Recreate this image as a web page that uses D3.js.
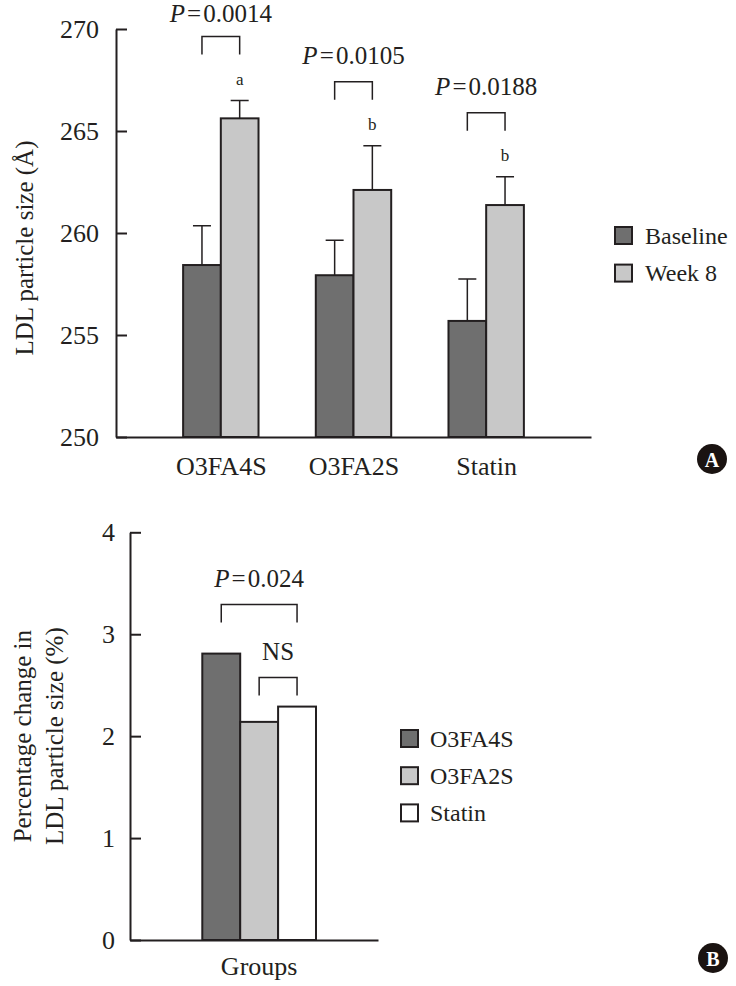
<!DOCTYPE html>
<html>
<head>
<meta charset="utf-8">
<script src="https://cdn.jsdelivr.net/npm/d3@7"></script>
<style>
  html, body { margin: 0; padding: 0; background: #fff; }
  svg { display: block; }
  text { font-family: "Liberation Serif", "Times New Roman", Times, serif; fill: #231f20; }
</style>
</head>
<body>
<svg id="chart" width="736" height="986"></svg>
<script>
// ---------- Data ----------
const categories = ["O3FA4S", "O3FA2S", "Statin"];
const seriesA = ["Baseline", "Week 8"];
const baselineValues = [258.43, 257.93, 255.69];
const baselineErrors = [1.93, 1.71, 2.06];
const week8Values = [265.62, 262.11, 261.37];
const week8Errors = [0.87, 2.17, 1.39];
const pValuesA = ["0.0014", "0.0105", "0.0188"];
const sigLetters = ["a", "b", "b"];
const ticksA = [250, 255, 260, 265, 270];

const seriesB = ["O3FA4S", "O3FA2S", "Statin"];
const pctChange = [2.81, 2.14, 2.29];
const ticksB = [0, 1, 2, 3, 4];
const pValueB = "0.024";
const nsLabel = "NS";
const groupLabelB = "Groups";

// ---------- Styles ----------
const INK = "#231f20";
const SERIF = "'Liberation Serif', 'Times New Roman', Times, serif";
const colorsA = ["#6f6f6f", "#c8c8c8"];
const colorsB = ["#6f6f6f", "#c8c8c8", "#ffffff"];
const THIN = "\u200A";

const svg = d3.select("#chart");

// ================= Panel A =================
const gA = svg.append("g");
const yA = d3.scaleLinear().domain([250, 270]).range([437, 29]);
const xA = d3.scalePoint().domain(categories).range([116, 591]).padding(0.79);
const xInA = d3.scaleBand().domain(seriesA).range([-37.7, 37.7]);

const rowsA = categories.map((c, i) => ({
  cat: c,
  vals: [
    { s: seriesA[0], v: baselineValues[i], e: baselineErrors[i], k: 0 },
    { s: seriesA[1], v: week8Values[i], e: week8Errors[i], k: 1 }
  ],
  p: pValuesA[i],
  letter: sigLetters[i]
}));

const grpA = gA.selectAll("g.grp").data(rowsA).join("g")
  .attr("transform", d => `translate(${xA(d.cat)},0)`);

// bars
grpA.selectAll("rect").data(d => d.vals).join("rect")
  .attr("x", d => xInA(d.s))
  .attr("y", d => yA(d.v))
  .attr("width", xInA.bandwidth())
  .attr("height", d => yA(250) - yA(d.v))
  .attr("fill", d => colorsA[d.k])
  .attr("stroke", INK).attr("stroke-width", 2);

// error bars
grpA.selectAll("path.err").data(d => d.vals).join("path")
  .attr("class", "err")
  .attr("d", d => {
    const cx = xInA(d.s) + xInA.bandwidth() / 2;
    const y0 = yA(d.v), y1 = yA(d.v + d.e);
    return `M${cx},${y0}V${y1}M${cx - 9},${y1}H${cx + 9}`;
  })
  .attr("fill", "none").attr("stroke", INK).attr("stroke-width", 1.5);

// letters
grpA.append("text")
  .attr("x", d => xInA(seriesA[1]) + xInA.bandwidth() / 2)
  .attr("y", d => yA(d.vals[1].v + d.vals[1].e) - 16)
  .attr("text-anchor", "middle")
  .attr("font-size", 17)
  .text(d => d.letter);

// brackets
grpA.append("path")
  .attr("d", d => {
    const xl = xInA(seriesA[0]) + xInA.bandwidth() / 2;
    const xr = xInA(seriesA[1]) + xInA.bandwidth() / 2;
    const yb = yA(d.vals[1].v + d.vals[1].e) - 46;
    return `M${xl},${yb}V${yb - 18}H${xr}V${yb}`;
  })
  .attr("fill", "none").attr("stroke", INK).attr("stroke-width", 1.5);

// p-values (kept inside the top edge)
const pTextA = grpA.append("text")
  .attr("x", 0)
  .attr("y", d => Math.max(22, yA(d.vals[1].v + d.vals[1].e) - 46 - 18 - 17.5))
  .attr("text-anchor", "middle")
  .attr("font-size", 25);
pTextA.append("tspan").attr("font-style", "italic").text("P");
pTextA.append("tspan").text(d => THIN + "=" + THIN + d.p);

// axes
gA.append("g").attr("transform", "translate(116,0)")
  .call(d3.axisLeft(yA).tickValues(ticksA).tickSizeInner(-11).tickSizeOuter(0).tickPadding(17).tickFormat(d3.format("d")))
  .call(g => {
    g.selectAll("path, line").attr("stroke", INK).attr("stroke-width", 2);
    g.selectAll("text").attr("font-size", 26).attr("font-family", SERIF).attr("fill", INK);
  });
gA.append("g").attr("transform", "translate(0,437)")
  .call(d3.axisBottom(xA).tickSize(0).tickPadding(20))
  .call(g => {
    g.selectAll("path").attr("stroke", INK).attr("stroke-width", 2);
    g.selectAll("text").attr("font-size", 26).attr("font-family", SERIF).attr("fill", INK);
  });

// y label
gA.append("text")
  .attr("transform", `translate(33,${(yA(250) + yA(270)) / 2 + 15}) rotate(-90)`)
  .attr("text-anchor", "middle")
  .attr("font-size", 25)
  .text("LDL particle size (Å)");

// legend A
const legA = gA.append("g").attr("transform", "translate(615,227)");
const legAItems = legA.selectAll("g").data(seriesA).join("g")
  .attr("transform", (d, i) => `translate(0,${i * 37.6})`);
legAItems.append("rect").attr("width", 17).attr("height", 17)
  .attr("fill", (d, i) => colorsA[i]).attr("stroke", INK).attr("stroke-width", 2);
legAItems.append("text").attr("x", 30).attr("y", 16.5).attr("font-size", 24).text(d => d);

// panel marker A
gA.append("circle").attr("cx", 712).attr("cy", 459).attr("r", 15).attr("fill", "#1a1311");
gA.append("text").attr("x", 712).attr("y", 466.5).attr("text-anchor", "middle")
  .attr("font-family", "'Liberation Sans', Arial, sans-serif").attr("font-weight", "bold")
  .attr("font-size", 20).style("fill", "#fff").text("A");

// ================= Panel B =================
const gB = svg.append("g");
const yB = d3.scaleLinear().domain([0, 4]).range([940, 532.3]);
const xB = d3.scaleBand().domain(seriesB).range([202.3, 316]);
const axisXB = d3.scaleLinear().range([130, 378]);

gB.selectAll("rect.bar").data(seriesB.map((s, i) => ({ s, v: pctChange[i], k: i }))).join("rect")
  .attr("class", "bar")
  .attr("x", d => xB(d.s))
  .attr("y", d => yB(d.v))
  .attr("width", xB.bandwidth())
  .attr("height", d => yB(0) - yB(d.v))
  .attr("fill", d => colorsB[d.k])
  .attr("stroke", INK).attr("stroke-width", 2);

const cB = s => xB(s) + xB.bandwidth() / 2;

// P bracket (O3FA4S vs Statin)
const pbBottom = yB(pctChange[0]) - 31;
gB.append("path")
  .attr("d", `M${cB(seriesB[0])},${pbBottom}V${pbBottom - 18}H${cB(seriesB[2])}V${pbBottom}`)
  .attr("fill", "none").attr("stroke", INK).attr("stroke-width", 1.5);
const pTextB = gB.append("text")
  .attr("x", (cB(seriesB[0]) + cB(seriesB[2])) / 2)
  .attr("y", pbBottom - 18 - 18)
  .attr("text-anchor", "middle").attr("font-size", 25);
pTextB.append("tspan").attr("font-style", "italic").text("P");
pTextB.append("tspan").text(THIN + "=" + THIN + pValueB);

// NS bracket (O3FA2S vs Statin)
const nsBottom = yB(Math.max(pctChange[1], pctChange[2])) - 11;
gB.append("path")
  .attr("d", `M${cB(seriesB[1])},${nsBottom}V${nsBottom - 18}H${cB(seriesB[2])}V${nsBottom}`)
  .attr("fill", "none").attr("stroke", INK).attr("stroke-width", 1.5);
gB.append("text")
  .attr("x", (cB(seriesB[1]) + cB(seriesB[2])) / 2)
  .attr("y", nsBottom - 18 - 18)
  .attr("text-anchor", "middle").attr("font-size", 25)
  .text(nsLabel);

// axes B
gB.append("g").attr("transform", "translate(130,0)")
  .call(d3.axisLeft(yB).tickValues(ticksB).tickSizeInner(-11).tickSizeOuter(0).tickPadding(15).tickFormat(d3.format("d")))
  .call(g => {
    g.selectAll("path, line").attr("stroke", INK).attr("stroke-width", 2);
    g.selectAll("text").attr("font-size", 26).attr("font-family", SERIF).attr("fill", INK);
  });
gB.append("g").attr("transform", "translate(0,940)")
  .call(d3.axisBottom(axisXB).tickValues([]).tickSizeOuter(0))
  .call(g => g.selectAll("path").attr("stroke", INK).attr("stroke-width", 2));
gB.append("text")
  .attr("x", (xB.range()[0] + xB.range()[1]) / 2)
  .attr("y", 975)
  .attr("text-anchor", "middle").attr("font-size", 26)
  .text(groupLabelB);

// y label B
const ylB = gB.append("text")
  .attr("transform", `translate(0,${(yB(0) + yB(4)) / 2}) rotate(-90)`)
  .attr("text-anchor", "middle").attr("font-size", 25);
ylB.append("tspan").attr("x", 0).attr("y", 31).text("Percentage change in");
ylB.append("tspan").attr("x", 0).attr("y", 63).text("LDL particle size (%)");

// legend B
const legB = gB.append("g").attr("transform", "translate(401,730)");
const legBItems = legB.selectAll("g").data(seriesB).join("g")
  .attr("transform", (d, i) => `translate(0,${i * 37.2})`);
legBItems.append("rect").attr("width", 17).attr("height", 17)
  .attr("fill", (d, i) => colorsB[i]).attr("stroke", INK).attr("stroke-width", 2);
legBItems.append("text").attr("x", 29).attr("y", 16.5).attr("font-size", 24).text(d => d);

// panel marker B
gB.append("circle").attr("cx", 713).attr("cy", 958).attr("r", 15).attr("fill", "#1a1311");
gB.append("text").attr("x", 713).attr("y", 965.5).attr("text-anchor", "middle")
  .attr("font-family", "'Liberation Sans', Arial, sans-serif").attr("font-weight", "bold")
  .attr("font-size", 20).style("fill", "#fff").text("B");
</script>
</body>
</html>
